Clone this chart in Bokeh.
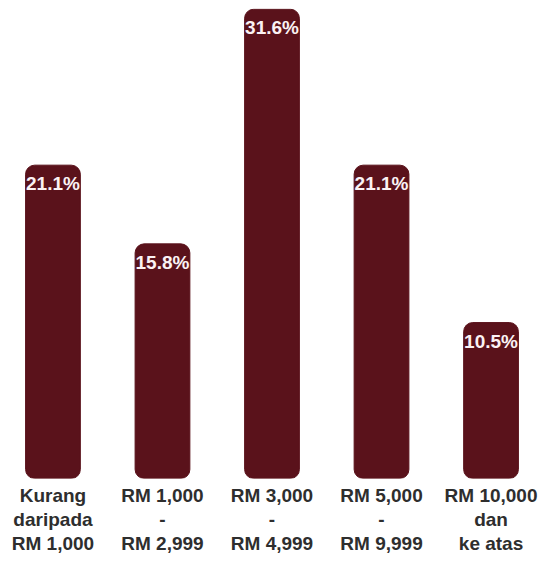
from bokeh.plotting import figure
from bokeh.models import ColumnDataSource, FactorRange
from bokeh.core.properties import value
from bokeh.embed import file_html
from bokeh.resources import INLINE

categories = ["Kurang\ndaripada\nRM 1,000", "RM 1,000\n-\nRM 2,999", "RM 3,000\n-\nRM 4,999",
              "RM 5,000\n-\nRM 9,999", "RM 10,000\ndan\nke atas"]
values = [21.1, 15.8, 31.6, 21.1, 10.5]
labels = ["21.1%", "15.8%", "31.6%", "21.1%", "10.5%"]

src = ColumnDataSource(dict(cat=categories, val=values, lab=labels))

p = figure(width=541, height=556, output_backend="svg", toolbar_location=None,
           x_range=FactorRange(*categories, range_padding=-0.094, range_padding_units="absolute"),
           y_range=(0, 31.65), min_border_left=8, min_border_right=6, min_border_top=8,
           min_border_bottom=10, y_axis_location=None)

p.vbar(x="cat", top="val", width=0.5, source=src, color="#5a121b", border_radius=9)
p.text(x="cat", y="val", text="lab", source=src, text_align="center", text_baseline="top",
       y_offset=8, text_color="#fbf2f4", text_font=value("Liberation Sans"),
       text_font_style="bold", text_font_size="19px")

p.xgrid.visible = False
p.ygrid.visible = False
p.outline_line_color = None
p.xaxis.axis_line_color = None
p.xaxis.major_tick_line_color = None
p.xaxis.minor_tick_line_color = None
p.xaxis.major_tick_out = 0
p.xaxis.major_tick_in = 0
p.xaxis.major_label_standoff = 6
p.xaxis.major_label_text_font = "Liberation Sans"
p.xaxis.major_label_text_font_style = "bold"
p.xaxis.major_label_text_font_size = "19px"
p.xaxis.major_label_text_color = "#2e2e2e"
p.xaxis.major_label_text_line_height = 1.15
p.background_fill_color = "white"

open("out.html", "w").write(file_html(p, INLINE))
